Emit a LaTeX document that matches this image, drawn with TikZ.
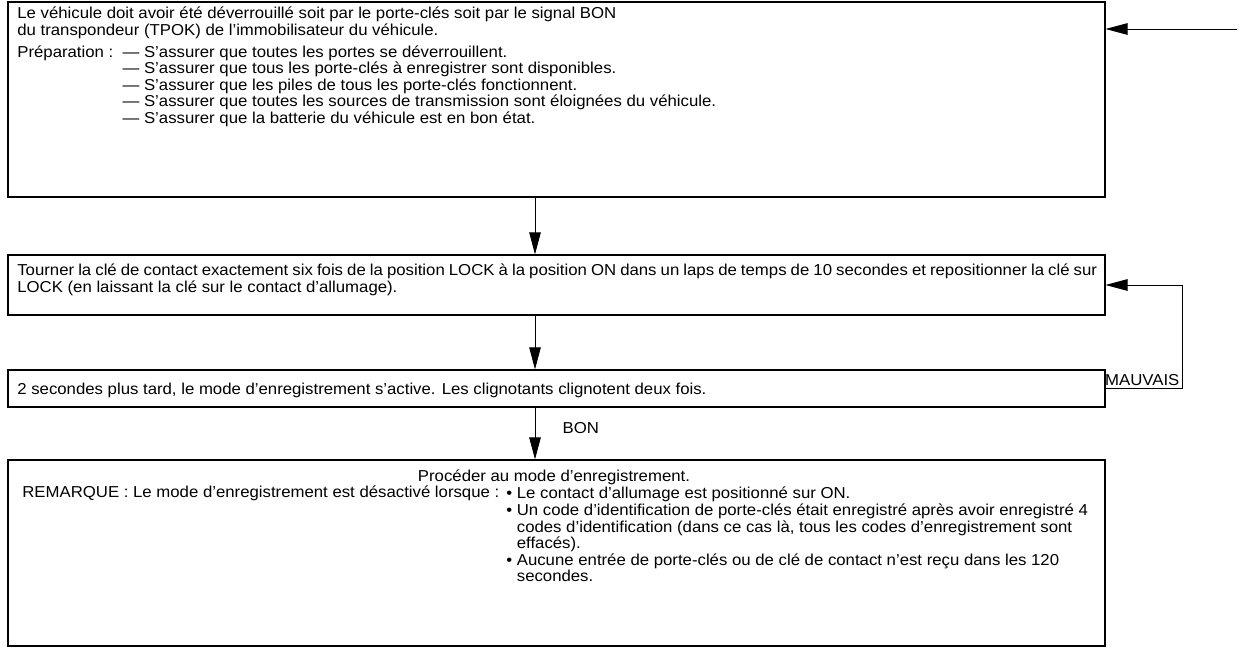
\documentclass[tikz,border=0pt]{standalone}
\usepackage{fontspec}
\setmainfont[FakeStretch=1.06]{Liberation Sans}
\usetikzlibrary{positioning, calc, arrows.meta}

\begin{document}
\begin{tikzpicture}[
    x=0.02cm, y=-0.02cm,
    box/.style={draw, line width=0.7pt, minimum width=21.94cm, inner sep=0pt},
    txt/.style={inner sep=0pt, font=\fontsize{9}{9.3}\selectfont},
    arrow/.style={-{Triangle[length=0.44cm, width=0.23cm]}, line width=0.5pt},
    lbl/.style={inner sep=1.5pt, font=\fontsize{9}{9.3}\selectfont}
]
\useasboundingbox (0,0) rectangle (1240,648);

% ----------------- boites -----------------
\node[box, minimum height=3.9cm]  (prep)    at (556.5, 99.5)  {};
\node[box, minimum height=1.2cm]  (turnkey) at (556.5, 285)   {};
\node[box, minimum height=0.74cm] (regmode) at (556.5, 388.5) {};
\node[box, minimum height=3.72cm] (proceed) at (556.5, 553)   {};

% ----------------- textes -----------------
\node[txt, anchor=north west] (preptext) at (17, 7) {%
\begin{tabular}{@{}l@{\ \ }l@{}}
\multicolumn{2}{@{}l@{}}{Le véhicule doit avoir été déverrouillé soit par le porte-clés soit par le signal BON}\\
\multicolumn{2}{@{}l@{}}{du transpondeur (TPOK) de l’immobilisateur du véhicule.}\\[3pt]
Préparation : & — S’assurer que toutes les portes se déverrouillent.\\
 & — S’assurer que tous les porte-clés à enregistrer\ sont disponibles.\\
 & — S’assurer que les piles de tous les porte-clés fonctionnent.\\
 & — S’assurer que toutes les sources de transmission sont éloignées du véhicule.\\
 & — S’assurer que la batterie du véhicule est en bon état.
\end{tabular}};

\node[txt, anchor=north west, text width=21.6cm, align=justify] (turntext) at (17, 264) {%
Tourner la clé de contact exactement six fois de la position LOCK à la position ON dans un laps de temps de 10 secondes et repositionner la clé sur\linebreak
LOCK (en laissant la clé sur le contact d’allumage).};

\node[txt, anchor=base west] (regtext) at (17, 394) {2 secondes plus tard, le mode d’enregistrement s’active. Les clignotants clignotent deux fois.};

\node[txt, anchor=base] (proctitle) at (554, 481) {Procéder au mode d’enregistrement.};
\node[txt, anchor=base west] (remark) at (22, 497) {REMARQUE : Le mode d’enregistrement est désactivé lorsque :};
\node[txt, anchor=north west] (cases) at (506, 487) {%
\begin{tabular}{@{}l@{\ }l@{}}
\textbullet & Le contact d’allumage est positionné sur ON.\\
\textbullet & Un code d’identification de porte-clés était enregistré après avoir enregistré 4\\
 & codes d’identification (dans ce cas là, tous les codes d’enregistrement sont\\
 & effacés).\\
\textbullet & Aucune entrée de porte-clés ou de clé de contact n’est reçu dans les 120\\
 & secondes.
\end{tabular}};

% ----------------- liaisons -----------------
\coordinate (trunk) at (535, 0);
\coordinate (entry) at (1237, 29);
\coordinate (loop)  at (1182, 0);

\draw[arrow] (entry) -- (entry -| prep.east);
\draw[arrow] (prep.south -| trunk) -- (turnkey.north -| trunk);
\draw[arrow] (turnkey.south -| trunk) -- (regmode.north -| trunk);
\draw[arrow] (regmode.south -| trunk) -- node[lbl, right=14pt, pos=0.4] {BON} (proceed.north -| trunk);
\draw[arrow] (regmode.east) -- node[lbl, above, pos=0.48] {MAUVAIS} (regmode.east -| loop) |- (turnkey.east);

\end{tikzpicture}
\end{document}
